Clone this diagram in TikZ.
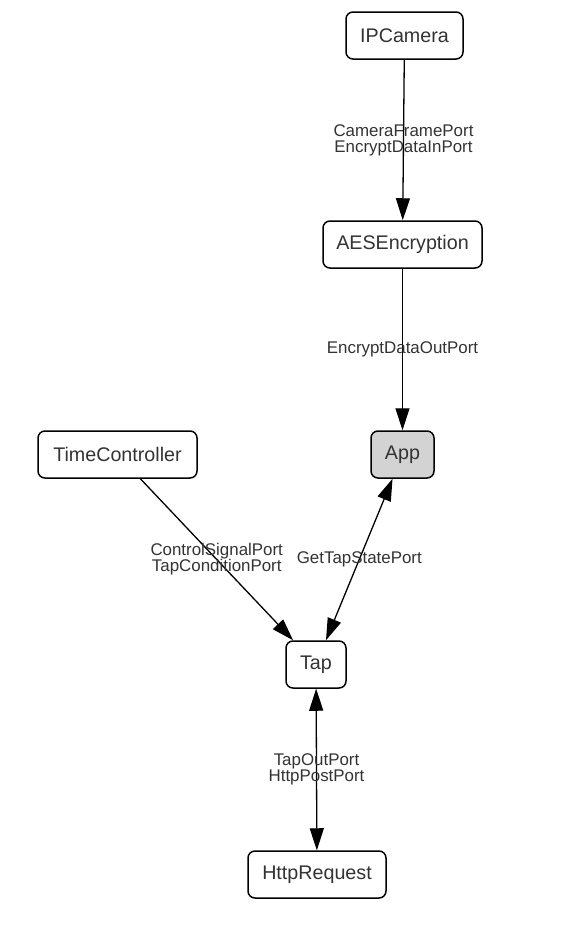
\documentclass[tikz,border=0pt]{standalone}
\usepackage{fontspec}
\setmainfont{Liberation Sans}
\usetikzlibrary{arrows.meta}
\definecolor{txt}{HTML}{333333}
\definecolor{appfill}{HTML}{D3D3D3}
\begin{document}
\begin{tikzpicture}[x=1pt,y=-1pt,
  box/.style={draw=black, line width=1.5pt, rounded corners=7pt, fill=white, text=txt,
    font=\fontsize{19.7}{23}\selectfont, inner sep=0pt, minimum height=47pt},
  lbl/.style={font=\fontsize{16.9}{16}\selectfont, text=txt, align=center, inner sep=0pt},
  conn/.style={line width=1.3pt, -{Triangle[length=22pt,width=14pt]}},
  bconn/.style={line width=1.3pt, {Triangle[length=22pt,width=14pt]}-{Triangle[length=22pt,width=14pt]}}]
\useasboundingbox (0,0) rectangle (568,926);
\node[box, minimum width=117pt] (ipc) at (404.5,35.5) {IPCamera};
\node[box, minimum width=159pt] (aes) at (402.5,244.5) {AESEncryption};
\node[box, minimum width=63pt, fill=appfill] (app) at (402.5,454.5) {App};
\node[box, minimum width=159pt] (tc) at (117.5,454.5) {TimeController};
\node[box, minimum width=60pt] (tap) at (316,664.5) {Tap};
\node[box, minimum width=138pt] (http) at (317,874.5) {HttpRequest};
\draw[conn] (ipc) -- node[lbl] (l1) {CameraFramePort\\EncryptDataInPort} (aes);
\draw[conn] (aes) -- node[lbl] (l2) {EncryptDataOutPort} (app);
\draw[conn] (tc) -- node[lbl] (l3) {ControlSignalPort\\TapConditionPort} (tap);
\draw[bconn] (app) -- node[lbl] (l4) {GetTapStatePort} (tap);
\draw[bconn] (tap) -- node[lbl] (l5) {TapOutPort\\HttpPostPort} (http);
\end{tikzpicture}
\end{document}
